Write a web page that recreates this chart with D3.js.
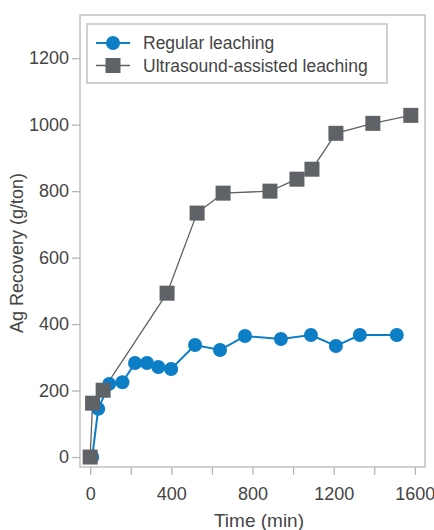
<!DOCTYPE html>
<html>
<head>
<meta charset="utf-8">
<script src="https://cdn.jsdelivr.net/npm/d3@7"></script>
<style>
  body { margin: 0; background: #fff; }
  svg text { font-family: "Liberation Sans", Arial, sans-serif; fill: #454545; }
</style>
</head>
<body>
<div id="chart"></div>
<script>
// Regular leaching
let regularTime = [10, 40, 94, 159, 221, 280, 336, 399, 517, 640, 763, 940, 1088, 1211, 1329, 1511],
    regularAg = [0, 145, 220, 225, 283, 283, 271, 265, 337, 322, 364, 355, 367, 334, 367, 367];

// Ultrasound-assisted leaching
let ultraTime = [0, 12, 64, 379, 527, 655, 886, 1019, 1093, 1211, 1393, 1580],
    ultraAg = [0, 162, 201, 493, 734, 794, 800, 836, 866, 974, 1004, 1028];

let xTicks = [0, 200, 400, 600, 800, 1000, 1200, 1400, 1600],
    xLabels = [0, 400, 800, 1200, 1600],
    yTicks = [0, 200, 400, 600, 800, 1000, 1200];

let seriesNames = ['Regular leaching', 'Ultrasound-assisted leaching'];

let blue = '#0b7ec6',
    grey = '#5f6266';

let width = 434,
    height = 530;

let plotLeft = 80, plotRight = 425, plotTop = 15, plotBottom = 467;

let x = d3.scaleLinear().domain([-50, 1650]).range([plotLeft, plotRight]);
let y = d3.scaleLinear().domain([-30, 1330]).range([plotBottom, plotTop]);

let svg = d3.select('#chart').append('svg')
    .attr('width', width)
    .attr('height', height);

// frame
svg.append('rect')
    .attr('x', plotLeft).attr('y', plotTop)
    .attr('width', plotRight - plotLeft).attr('height', plotBottom - plotTop)
    .attr('fill', 'none')
    .attr('stroke', '#c2c2c2')
    .attr('stroke-width', 1.5);

// y axis
let yAxis = svg.append('g')
    .attr('transform', 'translate(' + plotLeft + ',0)')
    .call(d3.axisLeft(y).tickValues(yTicks).tickSize(8).tickPadding(3).tickFormat(d3.format('d')));
yAxis.select('.domain').remove();
yAxis.selectAll('line').attr('stroke', '#b5b5b5').attr('stroke-width', 1.3);
yAxis.selectAll('text').style('font-size', '18px').attr('fill', '#454545')
    .style('font-family', '"Liberation Sans", Arial, sans-serif');

// x axis
let xAxis = svg.append('g')
    .attr('transform', 'translate(0,' + plotBottom + ')')
    .call(d3.axisBottom(x).tickValues(xTicks).tickSize(8).tickPadding(12)
        .tickFormat(d => xLabels.includes(d) ? d : ''));
xAxis.select('.domain').remove();
xAxis.selectAll('line').attr('stroke', '#b5b5b5').attr('stroke-width', 1.3);
xAxis.selectAll('text').style('font-size', '18px').attr('fill', '#454545')
    .style('font-family', '"Liberation Sans", Arial, sans-serif');

// axis titles
svg.append('text')
    .attr('x', 259)
    .attr('y', 527)
    .attr('text-anchor', 'middle')
    .style('font-size', '19px')
    .text('Time (min)');

svg.append('text')
    .attr('transform', 'translate(23,253) rotate(-90)')
    .attr('text-anchor', 'middle')
    .style('font-size', '18px')
    .text('Ag Recovery (g/ton)');

let line = d3.line()
    .x(d => x(d[0]))
    .y(d => y(d[1]));

let ultra = d3.zip(ultraTime, ultraAg),
    regular = d3.zip(regularTime, regularAg);

// ultrasound series
svg.append('path')
    .datum(ultra)
    .attr('d', line)
    .attr('fill', 'none')
    .attr('stroke', grey)
    .attr('stroke-width', 1.3);

// regular series
svg.append('path')
    .datum(regular)
    .attr('d', line)
    .attr('fill', 'none')
    .attr('stroke', blue)
    .attr('stroke-width', 2);

svg.append('g').selectAll('circle')
    .data(regular)
    .enter().append('circle')
    .attr('cx', d => x(d[0]))
    .attr('cy', d => y(d[1]))
    .attr('r', 7)
    .attr('fill', blue);

let sq = 15;
svg.append('g').selectAll('rect')
    .data(ultra)
    .enter().append('rect')
    .attr('x', d => x(d[0]) - sq / 2)
    .attr('y', d => y(d[1]) - sq / 2)
    .attr('width', sq)
    .attr('height', sq)
    .attr('fill', grey);

// legend
let legend = svg.append('g');
legend.append('rect')
    .attr('x', 87).attr('y', 24)
    .attr('width', 300).attr('height', 59)
    .attr('fill', '#fff')
    .attr('stroke', '#c2c2c2')
    .attr('stroke-width', 1.5);

let rows = legend.selectAll('.row')
    .data(seriesNames)
    .enter().append('g')
    .attr('class', 'row')
    .attr('transform', (d, i) => 'translate(0,' + (43 + i * 22.5) + ')');

rows.append('line')
    .attr('x1', 96).attr('x2', 130)
    .attr('stroke', (d, i) => i == 0 ? blue : grey)
    .attr('stroke-width', (d, i) => i == 0 ? 2 : 1.3);

rows.filter((d, i) => i == 0).append('circle')
    .attr('cx', 113).attr('r', 7).attr('fill', blue);
rows.filter((d, i) => i == 1).append('rect')
    .attr('x', 113 - sq / 2).attr('y', -sq / 2)
    .attr('width', sq).attr('height', sq).attr('fill', grey);

rows.append('text')
    .attr('x', 143)
    .attr('dy', '0.35em')
    .style('font-size', '17.5px')
    .text(d => d);
</script>
</body>
</html>
